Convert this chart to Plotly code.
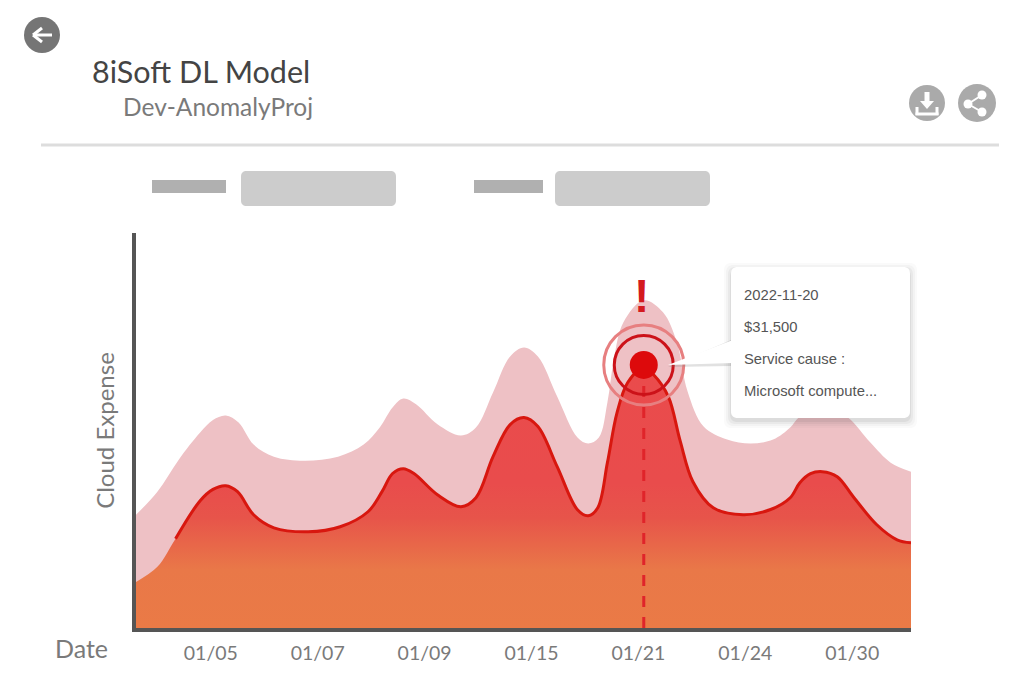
import plotly.graph_objects as go

W, H = 1024, 683

# tick labels sit at evenly spaced positions 0..6
tick_pos = [0, 1, 2, 3, 4, 5, 6]
tick_labels = ["01/05", "01/07", "01/09", "01/15", "01/21", "01/24", "01/30"]

# upper band (pink)
upper_x = [-0.70, -0.50, -0.30, -0.10, 0.02, 0.14, 0.26, 0.40, 0.59, 0.87, 1.19, 1.43, 1.58, 1.70, 1.80,
           1.92, 2.12, 2.34, 2.48, 2.64, 2.80, 2.93, 3.06, 3.24, 3.43, 3.53, 3.63, 3.71, 3.77, 3.86,
           4.05, 4.23, 4.36, 4.46, 4.61, 4.83, 5.05, 5.26, 5.42, 5.50, 5.73, 5.96, 6.17, 6.36, 6.55]
upper_y = [13560, 16320, 20160, 23400, 24900, 25440, 24600, 21960, 20520, 20040, 20520, 21960, 24000, 26400, 27480,
           26800, 24400, 23040, 24000, 28200, 32520, 33600, 32520, 27720, 22800, 22080, 22800, 27000, 32160, 36600,
           39240, 37800, 34200, 28320, 24120, 22560, 22080, 22560, 24000, 25200, 26760, 25200, 22200, 19800, 18720]

# start of the actual area, before the red line begins
lead_x = [-0.70, -0.50]
lead_y = [5520, 7320]

# actual expense (red line)
actual_x = [-0.33, -0.10, 0.02, 0.14, 0.25, 0.40, 0.59, 0.91, 1.21, 1.47, 1.60, 1.70, 1.80, 1.90, 2.12,
            2.34, 2.48, 2.64, 2.80, 2.93, 3.06, 3.24, 3.43, 3.53, 3.62, 3.71, 3.80, 3.90, 4.05, 4.14,
            4.28, 4.39, 4.51, 4.70, 4.98, 5.23, 5.42, 5.51, 5.61, 5.72, 5.86, 6.01, 6.23, 6.42, 6.55]
actual_y = [10680, 15240, 16600, 17040, 16320, 13560, 12000, 11520, 12120, 13920, 16300, 18500, 19080, 18500, 15960,
            14520, 15600, 20520, 24360, 25200, 24120, 19320, 14160, 13440, 14400, 19800, 25800, 29400, 31200, 30360,
            27720, 22440, 17520, 14400, 13560, 14160, 15600, 17400, 18480, 18720, 18120, 15720, 12360, 10560, 10200]

anomaly_x = 4.05
anomaly_y = 31500
tooltip_lines = ["2022-11-20", "$31,500", "Service cause :", "Microsoft compute..."]


def px(x):
    return x / W


def py(y):
    return 1 - y / H


def rect(x0, y0, x1, y1, color):
    return dict(type="rect", xref="paper", yref="paper", x0=px(x0), y0=py(y0), x1=px(x1), y1=py(y1),
                fillcolor=color, line_width=0)


def circle(cx, cy, r, color):
    return dict(type="circle", xref="paper", yref="paper", x0=px(cx - r), y0=py(cy - r), x1=px(cx + r),
                y1=py(cy + r), fillcolor=color, line_width=0)


def seg(x0, y0, x1, y1, color="white", width=3):
    return dict(type="line", xref="paper", yref="paper", x0=px(x0), y0=py(y0), x1=px(x1), y1=py(y1),
                line=dict(color=color, width=width))


def poly(points, color):
    d = "M" + " L".join(f"{px(x):.5f},{py(y):.5f}" for x, y in points) + " Z"
    return dict(type="path", xref="paper", yref="paper", path=d, fillcolor=color, line_width=0)


def round_rect(x0, y0, x1, y1, r, color):
    c = 0.3 * r
    p = [
        f"M{px(x0 + r):.5f},{py(y0):.5f}", f"L{px(x1 - r):.5f},{py(y0):.5f}",
        f"C{px(x1 - c):.5f},{py(y0):.5f} {px(x1):.5f},{py(y0 + c):.5f} {px(x1):.5f},{py(y0 + r):.5f}",
        f"L{px(x1):.5f},{py(y1 - r):.5f}",
        f"C{px(x1):.5f},{py(y1 - c):.5f} {px(x1 - c):.5f},{py(y1):.5f} {px(x1 - r):.5f},{py(y1):.5f}",
        f"L{px(x0 + r):.5f},{py(y1):.5f}",
        f"C{px(x0 + c):.5f},{py(y1):.5f} {px(x0):.5f},{py(y1 - c):.5f} {px(x0):.5f},{py(y1 - r):.5f}",
        f"L{px(x0):.5f},{py(y0 + r):.5f}",
        f"C{px(x0):.5f},{py(y0 + c):.5f} {px(x0 + c):.5f},{py(y0):.5f} {px(x0 + r):.5f},{py(y0):.5f} Z",
    ]
    return dict(type="path", xref="paper", yref="paper", path=" ".join(p), fillcolor=color, line_width=0)


def label(x, y, text, size, color, font="Lato", anchor="left"):
    return dict(xref="paper", yref="paper", x=px(x), y=py(y), text=text, showarrow=False, xanchor=anchor,
                yanchor="middle", font=dict(family=font, size=size, color=color))


fig = go.Figure()

fig.add_trace(go.Scatter(x=upper_x, y=upper_y, mode="lines", fill="tozeroy", fillcolor="#eec1c5",
                         line=dict(width=0, shape="spline", smoothing=1.0, color="#eec1c5"),
                         hoverinfo="skip"))

fig.add_trace(go.Scatter(x=lead_x + actual_x, y=lead_y + actual_y, mode="lines", fill="tozeroy",
                         line=dict(width=0, shape="spline", smoothing=1.0, color="#e84a4a"),
                         fillgradient=dict(type="vertical", start=0, stop=31500,
                                           colorscale=[[0, "#ea7a46"], [0.22, "#e97848"], [0.42, "#e7544a"],
                                                       [0.55, "#e94c4c"], [1, "#ea4b4c"]]),
                         hoverinfo="skip"))

fig.add_trace(go.Scatter(x=actual_x, y=actual_y, mode="lines",
                         line=dict(width=3, shape="spline", smoothing=1.0, color="#d8170f")))

# dashed drop line under the anomaly
fig.add_trace(go.Scatter(x=[anomaly_x, anomaly_x], y=[0, anomaly_y], mode="lines",
                         line=dict(width=3, color="#e0242a", dash="11px,10px")))

# anomaly marker and its rings
fig.add_trace(go.Scatter(x=[anomaly_x], y=[anomaly_y], mode="markers",
                         marker=dict(symbol="circle-open", size=80, color="#e77f80", line=dict(width=3, color="#e77f80"))))
fig.add_trace(go.Scatter(x=[anomaly_x], y=[anomaly_y], mode="markers",
                         marker=dict(symbol="circle-open", size=59, color="#cc1219", line=dict(width=3, color="#cc1219"))))
fig.add_trace(go.Scatter(x=[anomaly_x], y=[anomaly_y], mode="markers",
                         marker=dict(size=28, color="#dd0a0c", line_width=0)))

shapes = [
    # back button
    circle(42, 35, 18, "#757575"),
    seg(33, 35, 52, 35), seg(33, 35, 42, 28), seg(33, 35, 42, 42),
    # divider
    seg(41, 145, 999, 145, "#dddddd", 3),
    # download
    circle(927, 103, 18, "#aaaaaa"),
    rect(924.5, 92, 929.5, 102, "white"),
    poly([(920, 101), (934, 101), (927, 109)], "white"),
    seg(917, 107, 917, 115), seg(915.5, 114, 938.5, 114), seg(937, 107, 937, 115),
    # share
    circle(977, 103, 19, "#aaaaaa"),
    circle(968, 104, 4.5, "white"), circle(982, 95, 4.5, "white"), circle(982, 112, 4.5, "white"),
    seg(968, 104, 982, 95, "white", 2), seg(968, 104, 982, 112, "white", 2),
    # placeholder controls
    rect(152, 180, 226, 193, "#b0b0b0"),
    round_rect(241, 171, 396, 206, 6, "#cccccc"),
    rect(474, 180, 543, 193, "#b0b0b0"),
    round_rect(555, 171, 710, 206, 6, "#cccccc"),
    # tooltip pointer, shadow and card
    poly([(668, 367), (731, 340), (731, 366)], "rgba(120,120,120,0.22)"),
]
for grow, alpha in [(7, 0.025), (5, 0.035), (3, 0.05), (1, 0.07)]:
    shapes.append(round_rect(731 - grow, 267 - grow + 3, 910 + grow, 418 + grow + 3, 8, f"rgba(60,60,60,{alpha})"))
shapes.append(poly([(668, 365), (733, 340), (733, 363)], "white"))
shapes.append(round_rect(731, 267, 910, 418, 7, "white"))

annotations = [
    label(90, 71, "8iSoft DL Model", 30.5, "#444444"),
    label(121, 107, "Dev-AnomalyProj", 24.5, "#7a7a7a"),
    label(53, 648, "Date", 25, "#7a7a7a"),
    dict(x=anomaly_x, y=anomaly_y, xref="x", yref="y", xshift=-2, yshift=69, text="<b>!</b>", showarrow=False,
         font=dict(family="Liberation Sans", size=46, color="#d41a1f")),
]
for i, line in enumerate(tooltip_lines):
    annotations.append(label(742, 295 + 32 * i, line, 14.8, "#555555", "Liberation Sans"))

fig.update_layout(
    width=W,
    height=H,
    autosize=False,
    showlegend=False,
    hovermode=False,
    paper_bgcolor="white",
    plot_bgcolor="white",
    margin=dict(l=0, r=0, t=0, b=0),
    shapes=shapes,
    annotations=annotations,
    xaxis=dict(
        domain=[px(136), px(911)],
        range=[-0.70, 6.55],
        tickmode="array",
        tickvals=tick_pos,
        ticktext=tick_labels,
        tickfont=dict(family="Lato", size=19.5, color="#7a7a7a"),
        ticks="outside",
        ticklen=5,
        tickcolor="rgba(0,0,0,0)",
        showgrid=False,
        zeroline=False,
        showline=True,
        linecolor="#555555",
        linewidth=4,
    ),
    yaxis=dict(
        domain=[py(628), py(233)],
        range=[0, 47300],
        showticklabels=False,
        ticks="",
        showgrid=False,
        zeroline=False,
        showline=True,
        linecolor="#555555",
        linewidth=4,
        title=dict(text="Cloud Expense", standoff=12, font=dict(family="Lato", size=24, color="#7a7a7a")),
    ),
)

fig.write_html("out.html", config=dict(displayModeBar=False),
               post_script="document.body.style.margin='0';")
